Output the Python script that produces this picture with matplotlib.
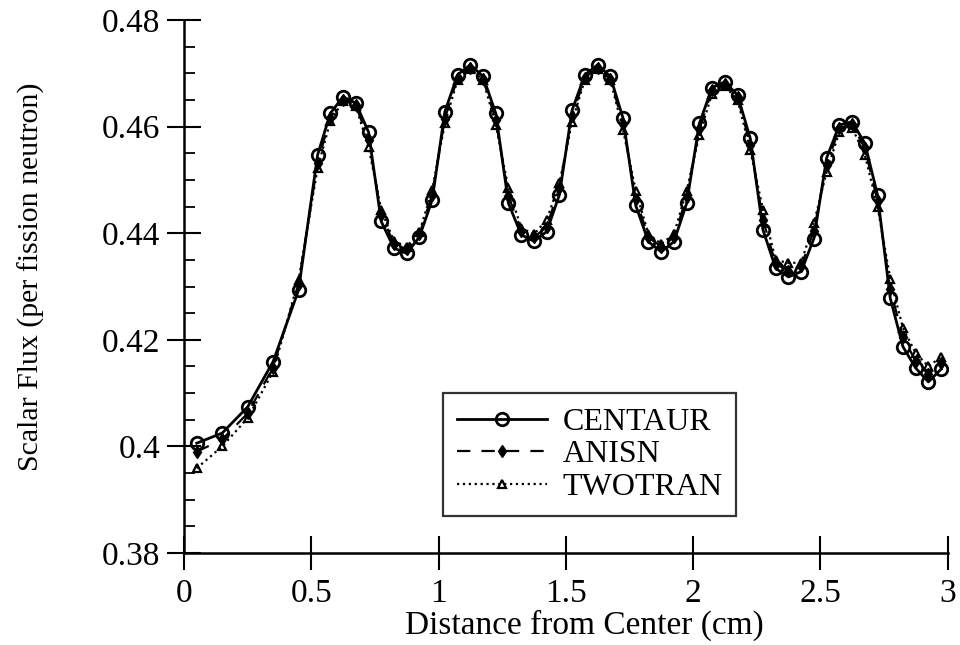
import matplotlib
matplotlib.use("Agg")
import matplotlib.pyplot as plt
from matplotlib.ticker import MultipleLocator

plt.rcParams['font.family'] = ['Liberation Serif', 'DejaVu Serif']

x_cm = [0.05, 0.15, 0.25, 0.35, 0.45,
        0.525, 0.575, 0.625, 0.675, 0.725, 0.775, 0.825, 0.875, 0.925, 0.975,
        1.025, 1.075, 1.125, 1.175, 1.225, 1.275, 1.325, 1.375, 1.425, 1.475,
        1.525, 1.575, 1.625, 1.675, 1.725, 1.775, 1.825, 1.875, 1.925, 1.975,
        2.025, 2.075, 2.125, 2.175, 2.225, 2.275, 2.325, 2.375, 2.425, 2.475,
        2.525, 2.575, 2.625, 2.675, 2.725, 2.775, 2.825, 2.875, 2.925, 2.975]

centaur = [0.4006, 0.4025, 0.4074, 0.4159, 0.4293,
           0.4547, 0.4625, 0.4656, 0.4644, 0.4590, 0.4422, 0.4372, 0.4362, 0.4393, 0.4462,
           0.4628, 0.4697, 0.4716, 0.4694, 0.4625, 0.4456, 0.4397, 0.4385, 0.4403, 0.4472,
           0.4631, 0.4697, 0.4716, 0.4694, 0.4616, 0.4452, 0.4384, 0.4365, 0.4384, 0.4456,
           0.4606, 0.4673, 0.4684, 0.4659, 0.4578, 0.4406, 0.4334, 0.4318, 0.4328, 0.4390,
           0.4541, 0.4603, 0.4609, 0.4569, 0.4472, 0.4278, 0.4187, 0.4147, 0.4121, 0.4145]

anisn = [0.3990, 0.4013, 0.4062, 0.4148, 0.4305,
         0.4532, 0.4617, 0.4650, 0.4640, 0.4575, 0.4435, 0.4380, 0.4370, 0.4398, 0.4472,
         0.4615, 0.4692, 0.4710, 0.4690, 0.4612, 0.4470, 0.4405, 0.4392, 0.4412, 0.4485,
         0.4620, 0.4692, 0.4710, 0.4690, 0.4605, 0.4465, 0.4392, 0.4375, 0.4392, 0.4468,
         0.4595, 0.4668, 0.4680, 0.4655, 0.4566, 0.4425, 0.4342, 0.4330, 0.4338, 0.4405,
         0.4528, 0.4597, 0.4604, 0.4560, 0.4460, 0.4295, 0.4205, 0.4160, 0.4135, 0.4157]

twotran = [0.3959, 0.4000, 0.4053, 0.4140, 0.4312,
           0.4522, 0.4610, 0.4648, 0.4638, 0.4562, 0.4444, 0.4385, 0.4375, 0.4402, 0.4481,
           0.4606, 0.4688, 0.4708, 0.4688, 0.4603, 0.4484, 0.4410, 0.4398, 0.4425, 0.4494,
           0.4609, 0.4688, 0.4708, 0.4688, 0.4594, 0.4480, 0.4398, 0.4380, 0.4398, 0.4480,
           0.4584, 0.4662, 0.4676, 0.4650, 0.4556, 0.4444, 0.4350, 0.4344, 0.4345, 0.4419,
           0.4515, 0.4590, 0.4598, 0.4547, 0.4450, 0.4315, 0.4222, 0.4175, 0.4150, 0.4168]

series_names = ['CENTAUR', 'ANISN', 'TWOTRAN']
x_ticks = [0, 0.5, 1, 1.5, 2, 2.5, 3]
x_tick_labels = ['0', '0.5', '1', '1.5', '2', '2.5', '3']
y_ticks = [0.38, 0.40, 0.42, 0.44, 0.46, 0.48]
y_tick_labels = ['0.38', '0.4', '0.42', '0.44', '0.46', '0.48']

fig = plt.figure(figsize=(9.6, 6.45), dpi=100)
ax = fig.add_axes([184/960, 1-553/645, (947.5-184)/960, (553-20)/645])

ax.plot(x_cm, centaur, '-', color='black', lw=2.0, marker='o', ms=9,
        mfc='none', mec='black', mew=2.0, label=series_names[0])
ax.plot(x_cm, anisn, '--', color='black', lw=1.6, marker='d', ms=6,
        mfc='black', mec='black', mew=1.0, dashes=(6, 5), label=series_names[1])
ax.plot(x_cm, twotran, ':', color='black', lw=1.6, marker='^', ms=6,
        mfc='none', mec='black', mew=1.6, label=series_names[2])

ax.set_xlim(0, 3)
ax.set_ylim(0.38, 0.48)
ax.set_xticks(x_ticks)
ax.set_xticklabels(x_tick_labels)
ax.set_yticks(y_ticks)
ax.set_yticklabels(y_tick_labels)
ax.yaxis.set_minor_locator(MultipleLocator(0.005))

for s in ['top', 'right']:
    ax.spines[s].set_visible(False)
for s in ['left', 'bottom']:
    ax.spines[s].set_linewidth(1.8)

ax.tick_params(axis='both', which='major', direction='inout', length=24,
               width=1.5, labelsize=24)
ax.tick_params(axis='y', which='major', pad=5)
ax.tick_params(axis='x', which='major', pad=6)
ax.tick_params(axis='y', which='minor', direction='in', length=8, width=1.3)

ax.set_xlabel('Distance from Center (cm)', fontsize=24)
ax.set_ylabel('Scalar Flux (per fission neutron)', fontsize=21.5)
ax.xaxis.set_label_coords(0.525, -0.136)
ax.yaxis.set_label_coords(-0.2, 0.519)
ax.xaxis.label.set_va('center')
ax.yaxis.label.set_va('center')

leg_w = (736 - 443) / 763.5
leg_h = (515 - 393) / 533
leg = ax.legend(loc='upper left', bbox_to_anchor=(0.339, 0.300 - leg_h, leg_w, leg_h),
                mode='expand', borderaxespad=0, fontsize=23, handlelength=2.8,
                fancybox=False, frameon=True, labelspacing=0.1,
                borderpad=0.45, handletextpad=0.5)
leg.get_frame().set_edgecolor('black')
leg.get_frame().set_linewidth(1.6)

fig.savefig('out.png', dpi=100)
